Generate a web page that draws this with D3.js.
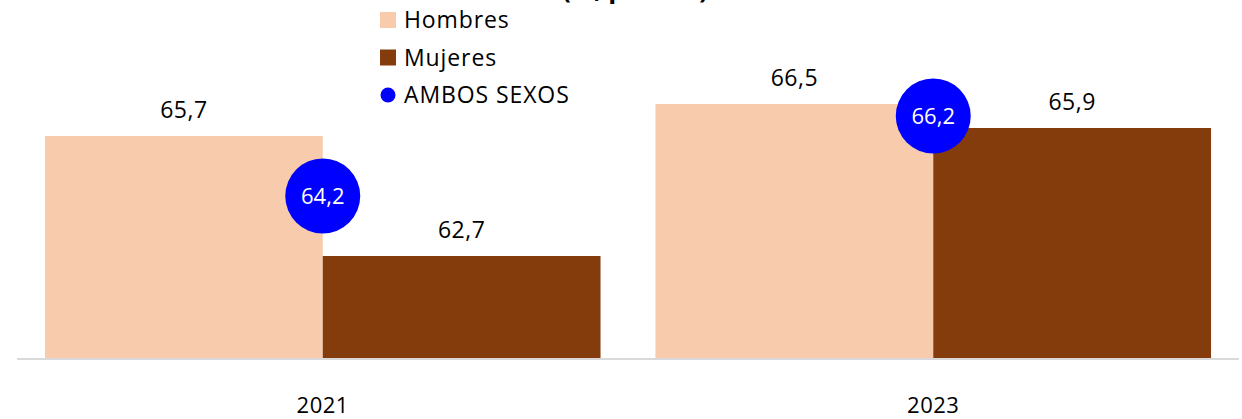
<!DOCTYPE html>
<meta charset="utf-8">
<html>
<head>
    <script src="https://d3js.org/d3.v7.min.js"></script>
    <style>
        body { margin: 0; background: #fff; }
        text { font-family: "Open Sans", sans-serif; }
    </style>
</head>
<body>
<script>
    // datos
    var anios = ["2021", "2023"];
    var series = ["Hombres", "Mujeres"];
    var hombres = [65.7, 66.5];
    var mujeres = [62.7, 65.9];
    var ambos = [64.2, 66.2];
    var colores = ["#F8CBAD", "#843C0C"];
    var colorAmbos = "#0000FF";
    var titulo = "(%, puntos)";

    var ancho = 1242, alto = 419;

    var svg = d3.select("body").append("svg")
        .attr("width", ancho)
        .attr("height", alto);

    var x = d3.scaleBand().domain(anios).range([17.5, 1238.5])
        .paddingInner(0.09).paddingOuter(0.045);
    var xs = d3.scaleBand().domain(series).range([0, x.bandwidth()]);
    var y = d3.scaleLinear().domain([60.15, 66.5]).range([358, 104]);

    var fmt = function (v) { return d3.format(".1f")(v).replace(".", ","); };

    // titulo (cortado arriba, como en el original)
    svg.append("text")
        .attr("x", 635).attr("y", -2)
        .attr("text-anchor", "middle")
        .style("font-size", "26px").style("font-weight", "bold")
        .text(titulo);

    var valores = [hombres, mujeres];
    var datos = [];
    anios.forEach(function (a, i) {
        series.forEach(function (s, j) {
            datos.push({ anio: a, serie: s, valor: valores[j][i], color: colores[j] });
        });
    });

    svg.selectAll("rect.barra")
        .data(datos)
        .enter().append("rect")
        .attr("class", "barra")
        .attr("x", function (d) { return x(d.anio) + xs(d.serie); })
        .attr("width", xs.bandwidth())
        .attr("y", function (d) { return y(d.valor); })
        .attr("height", function (d) { return y(60.15) - y(d.valor); })
        .attr("fill", function (d) { return d.color; });

    svg.selectAll("text.valor")
        .data(datos)
        .enter().append("text")
        .attr("class", "valor")
        .attr("x", function (d) { return x(d.anio) + xs(d.serie) + xs.bandwidth() / 2; })
        .attr("y", function (d) { return y(d.valor) - 18; })
        .attr("text-anchor", "middle")
        .style("font-size", "23px")
        .style("letter-spacing", "0.5px")
        .style("fill", "#000")
        .text(function (d) { return fmt(d.valor); });

    // eje
    svg.append("line")
        .attr("x1", 17).attr("x2", 1239)
        .attr("y1", y(60.15) + 1).attr("y2", y(60.15) + 1)
        .attr("stroke", "#D9D9D9").attr("stroke-width", 2);

    svg.selectAll("text.anio")
        .data(anios)
        .enter().append("text")
        .attr("class", "anio")
        .attr("x", function (d) { return x(d) + x.bandwidth() / 2; })
        .attr("y", 413)
        .attr("text-anchor", "middle")
        .style("font-size", "22px")
        .style("letter-spacing", "0.5px")
        .text(function (d) { return d; });

    // ambos sexos
    var g = svg.selectAll("g.ambos")
        .data(anios)
        .enter().append("g")
        .attr("class", "ambos")
        .attr("transform", function (d, i) {
            return "translate(" + (x(d) + x.bandwidth() / 2) + "," + y(ambos[i]) + ")";
        });
    g.append("circle").attr("r", 37.5).attr("fill", colorAmbos);
    g.append("text")
        .attr("text-anchor", "middle")
        .attr("dy", "0.35em")
        .style("font-size", "22px")
        .style("fill", "#fff")
        .text(function (d, i) { return fmt(ambos[i]); });

    // leyenda
    var leyenda = svg.append("g").attr("transform", "translate(380,0)");
    var items = series.map(function (s, i) { return { nombre: s, color: colores[i], tipo: "rect" }; });
    items.push({ nombre: "AMBOS SEXOS", color: colorAmbos, tipo: "circle" });

    var li = leyenda.selectAll("g")
        .data(items)
        .enter().append("g")
        .attr("transform", function (d, i) { return "translate(0," + (20 + i * 37.5) + ")"; });
    li.each(function (d) {
        var e = d3.select(this);
        if (d.tipo === "rect") {
            e.append("rect").attr("x", 0).attr("y", -8).attr("width", 16).attr("height", 16).attr("fill", d.color);
        } else {
            e.append("circle").attr("cx", 8).attr("cy", 0).attr("r", 7.5).attr("fill", d.color);
        }
    });
    li.append("text")
        .attr("x", 24).attr("y", 8)
        .style("font-size", "23px")
        .style("letter-spacing", "0.9px")
        .text(function (d) { return d.nombre; });
</script>
</body>
</html>
